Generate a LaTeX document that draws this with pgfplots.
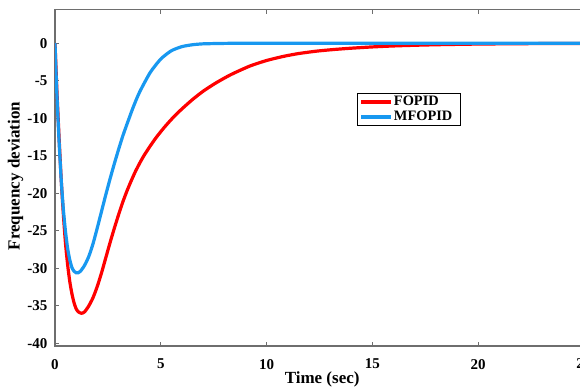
\documentclass[border=0pt]{standalone}
\usepackage{pgfplots}
\pgfplotsset{compat=1.18}
\usepackage{fontspec}
\setmainfont{Liberation Serif}
\definecolor{fored}{RGB}{255,0,0}
\definecolor{mfblue}{RGB}{24,152,240}
\definecolor{axgray}{RGB}{110,110,110}
\begin{document}
\begin{tikzpicture}
\begin{axis}[
  at={(27.5pt,22pt)}, anchor=south west,
  scale only axis, width=264.5pt, height=168.25pt,
  xmin=0, xmax=25, ymin=-40.36, ymax=4.5,
  xtick={0,5,10,15,20,25}, xticklabels={0,5,10,15,20,25},
  ytick={-40,-35,-30,-25,-20,-15,-10,-5,0},
  yticklabels={-40,-35,-30,-25,-20,-15,-10,-5,0},
  axis line style={axgray, line width=0.6pt},
  every tick/.style={axgray, line width=0.5pt},
  major tick length=2.2pt,
  tick align=inside,
  ticklabel style={font=\fontsize{7.5}{9}\selectfont\bfseries, black},
  xticklabel style={yshift=-3pt},
  yticklabel style={xshift=-0.3pt},
  xlabel={Time (sec)}, ylabel={Frequency deviation},
  label style={font=\fontsize{8.5}{10}\selectfont\bfseries},
  xlabel style={at={(axis description cs:0.505,-0.098)}, anchor=center},
  ylabel style={at={(axis description cs:-0.0747,0.505)}, anchor=center},
  legend style={at={(axis description cs:0.571,0.752)}, anchor=north west,
    draw=black, line width=0.5pt, inner xsep=1pt, inner ysep=0.5pt,
    font=\fontsize{7.2}{7.5}\selectfont\bfseries,
    nodes={inner xsep=0.6pt, inner ysep=0.2pt, text height=5.3pt, text depth=1.8pt},
    cells={anchor=west}},
  legend image code/.code={\draw[#1] (0pt,0pt) -- (15pt,0pt);},
]
\addplot[fored, line width=1.6pt, smooth, tension=0.4] coordinates {
(0,0) (0.05,-3.5) (0.1,-7) (0.2,-13) (0.3,-18.5) (0.4,-23) (0.5,-26.8)
(0.6,-29.6) (0.7,-31.8) (0.8,-33.4) (0.9,-34.6) (1.0,-35.4) (1.1,-35.8)
(1.25,-36.0) (1.4,-35.8) (1.6,-35.0) (1.8,-33.9) (2.0,-32.4) (2.2,-30.6)
(2.4,-28.6) (2.6,-26.6) (2.8,-24.7) (3.0,-22.9) (3.2,-21.2) (3.4,-19.7)
(3.6,-18.35) (3.8,-17.1) (4.0,-16.0) (4.2,-15.0) (4.5,-13.7) (4.8,-12.5)
(5.2,-11.1) (5.6,-9.85) (6.0,-8.75) (6.5,-7.5) (7.0,-6.4) (7.6,-5.3)
(8.3,-4.2) (9.2,-3.05) (10.0,-2.3) (10.8,-1.75) (11.5,-1.38) (12.37,-1.05)
(13.2,-0.83) (13.95,-0.67) (15,-0.49) (16,-0.36) (17,-0.27) (18,-0.2)
(19,-0.15) (20,-0.11) (22,-0.06) (25,-0.02)
};
\addlegendentry{FOPID\rule{2.5pt}{0pt}}
\addplot[mfblue, line width=1.6pt, smooth, tension=0.4] coordinates {
(0,0) (0.05,-4) (0.1,-7.5) (0.2,-13.5) (0.3,-18.5) (0.4,-22.3) (0.5,-25.2)
(0.6,-27.4) (0.7,-28.9) (0.8,-29.9) (0.9,-30.4) (1.0,-30.6) (1.1,-30.6)
(1.2,-30.4) (1.4,-29.6) (1.6,-28.4) (1.8,-26.7) (2.0,-24.6) (2.2,-22.4)
(2.4,-20.2) (2.6,-18.1) (2.8,-16.1) (3.0,-14.2) (3.2,-12.4) (3.4,-10.8)
(3.7,-8.5) (4.0,-6.5) (4.5,-3.9) (5.0,-2.1) (5.5,-1.0) (6.0,-0.45)
(6.5,-0.2) (7,-0.08) (8,-0.02) (9,0) (12,0) (25,0)
};
\addlegendentry{MFOPID\rule{2.5pt}{0pt}}
\end{axis}
\pgfresetboundingbox
\path (0,0) rectangle (290pt,195pt);
\end{tikzpicture}
\end{document}
